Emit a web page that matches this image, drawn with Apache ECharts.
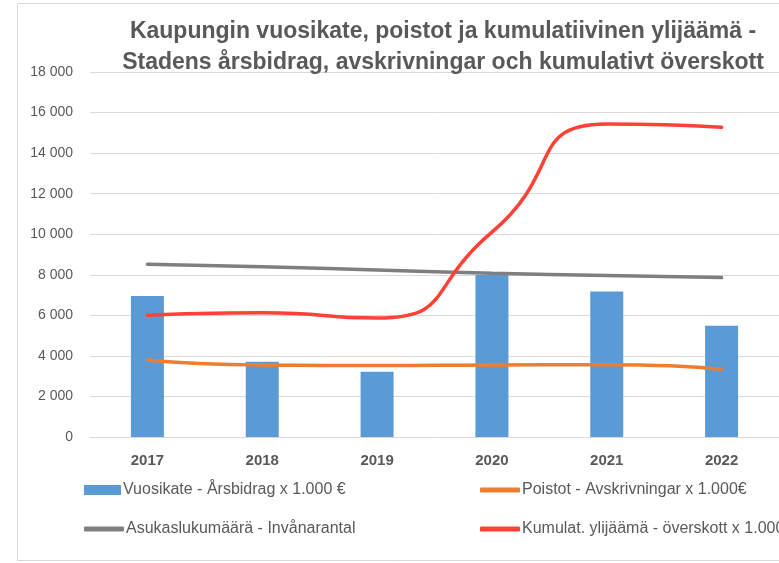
<!DOCTYPE html>
<html lang="fi">
<head>
    <meta charset="UTF-8">
    <title>Kaupungin vuosikate, poistot ja kumulatiivinen ylijäämä</title>
    <script src="https://cdn.jsdelivr.net/npm/echarts@6/dist/echarts.min.js"></script>
    <style>
        * { margin: 0; padding: 0; }
        body { background: #fff; }
        #main { width: 779px; height: 563px; }
    </style>
</head>
<body>
    <div id="main"></div>
    <script>
        // data
        const years = ['2017', '2018', '2019', '2020', '2021', '2022'];
        const vuosikate = [6950, 3710, 3220, 7990, 7170, 5490];
        const poistot = [3800, 3550, 3520, 3550, 3560, 3340];
        const asukas = [8520, 8400, 8230, 8070, 7960, 7860];
        const ylijaama = [6000, 6130, 5870, 10100, 15430, 15270];

        const names = [
            'Vuosikate - Årsbidrag x 1.000 €',
            'Poistot - Avskrivningar x 1.000€',
            'Asukaslukumäärä - Invånarantal',
            'Kumulat. ylijäämä - överskott x 1.000€'
        ];

        const font = "'Liberation Sans', sans-serif";
        const textColor = '#595959';

        var chart = echarts.init(document.getElementById('main'));

        function fmt(v) {
            return String(v).replace(/\B(?=(\d{3})+(?!\d))/g, ' ');
        }

        function legendAt(name, left, top, isBar) {
            return {
                data: [name],
                left: left,
                top: top,
                icon: isBar ? 'rect' : 'roundRect',
                itemWidth: isBar ? 37 : 40,
                itemHeight: isBar ? 10 : 5,
                itemGap: 2,
                padding: 0,
                selectedMode: false,
                textStyle: { fontFamily: font, fontSize: 16, color: textColor, padding: [0, 0, 0, -3] }
            };
        }

        function lineSeries(name, data, color) {
            return {
                name: name,
                type: 'line',
                data: data,
                smooth: 0.6,
                symbol: 'none',
                lineStyle: { color: color, width: 3.5, cap: 'round' },
                itemStyle: { color: color },
                z: 3
            };
        }

        var option = {
            backgroundColor: '#fff',
            animation: false,
            textStyle: { fontFamily: font },
            title: {
                text: 'Kaupungin vuosikate, poistot ja kumulatiivinen ylijäämä -\nStadens årsbidrag, avskrivningar och kumulativt överskott',
                left: 438,
                top: 11,
                textAlign: 'center',
                textStyle: {
                    fontFamily: font,
                    fontSize: 23,
                    fontWeight: 'bold',
                    color: textColor,
                    lineHeight: 31
                }
            },
            graphic: [{
                type: 'rect',
                shape: { x: 17.5, y: 3.5, width: 800, height: 557 },
                style: { fill: 'none', stroke: '#d9d9d9', lineWidth: 1 },
                silent: true
            }],
            legend: [
                legendAt(names[0], 84, 482, true),
                legendAt(names[1], 480, 482, false),
                legendAt(names[2], 84, 521, false),
                legendAt(names[3], 480, 521, false)
            ],
            grid: {
                left: 90,
                top: 72,
                width: 698,
                height: 365
            },
            xAxis: {
                type: 'category',
                data: years,
                axisLine: { lineStyle: { color: '#d9d9d9', width: 1 } },
                axisTick: { show: false },
                axisLabel: {
                    fontFamily: font,
                    fontSize: 15,
                    fontWeight: 'bold',
                    color: textColor,
                    margin: 16
                }
            },
            yAxis: {
                type: 'value',
                min: 0,
                max: 18000,
                interval: 2000,
                axisLine: { show: false },
                axisTick: { show: false },
                splitLine: { lineStyle: { color: '#d9d9d9', width: 1 } },
                axisLabel: {
                    fontFamily: font,
                    fontSize: 14,
                    color: textColor,
                    margin: 17,
                    formatter: fmt
                }
            },
            series: [
                {
                    name: names[0],
                    type: 'bar',
                    data: vuosikate,
                    barWidth: 33,
                    itemStyle: { color: '#5b9bd5' },
                    z: 2
                },
                lineSeries(names[1], poistot, '#ed7d31'),
                lineSeries(names[2], asukas, '#7f7f7f'),
                lineSeries(names[3], ylijaama, '#ff4136')
            ]
        };

        chart.setOption(option);
    </script>
</body>
</html>
